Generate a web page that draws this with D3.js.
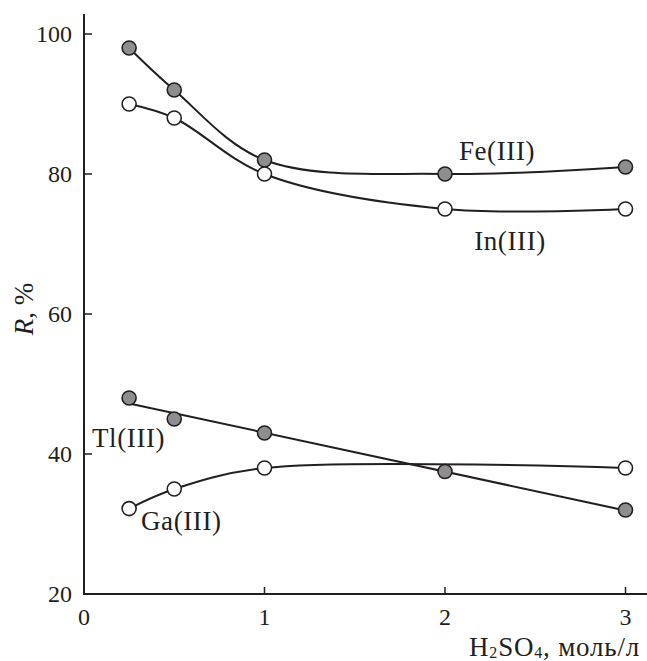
<!DOCTYPE html>
<html>
<head>
<meta charset="utf-8">
<script src="https://cdn.jsdelivr.net/npm/d3@7"></script>
<style>
  body { margin: 0; background: #fff; }
  svg text { font-family: "Liberation Serif", "Times New Roman", serif; fill: #231f20; }
</style>
</head>
<body>
<div id="vis"></div>
<script>
// concentrations of H2SO4, mol/l
const xFe = [0.25, 0.5, 1, 2, 3];
const yFe = [98, 92, 82, 80, 81];
const xIn = [0.25, 0.5, 1, 2, 3];
const yIn = [90, 88, 80, 75, 75];
const xTl = [0.25, 0.5, 1, 2, 3];
const yTl = [48, 45, 43, 37.5, 32];
const xGa = [0.25, 0.5, 1, 3];
const yGa = [32.2, 35, 38, 38];
const xTicks = [0, 1, 2, 3];
const yTicks = [20, 40, 60, 80, 100];

const width = 647, height = 661;
const fs = 24;   // tick numbers
const ls = 27;   // labels and titles
const svg = d3.select('#vis')
  .append('svg')
  .attr('width', width)
  .attr('height', height);

const x = d3.scaleLinear().domain([0, 3]).range([84, 625.5]);
const y = d3.scaleLinear().domain([20, 100]).range([594, 34]);
const ink = '#231f20';

// axes
svg.append('line')
  .attr('x1', 84).attr('x2', 84)
  .attr('y1', 14).attr('y2', 594)
  .attr('stroke', ink).attr('stroke-width', 2);
svg.append('line')
  .attr('x1', 83).attr('x2', 647)
  .attr('y1', 594).attr('y2', 594)
  .attr('stroke', ink).attr('stroke-width', 2);

// y ticks, pointing inward
svg.selectAll('.ytick')
  .data(yTicks)
  .enter()
  .append('line')
  .attr('class', 'ytick')
  .attr('x1', 84).attr('x2', 92)
  .attr('y1', d => y(d)).attr('y2', d => y(d))
  .attr('stroke', ink).attr('stroke-width', 1.5);

svg.selectAll('.ylabel')
  .data(yTicks)
  .enter()
  .append('text')
  .attr('class', 'ylabel')
  .attr('x', 72)
  .attr('y', d => y(d))
  .attr('dy', '0.34em')
  .attr('text-anchor', 'end')
  .attr('font-size', fs)
  .text(d => d);

// x ticks
svg.selectAll('.xtick')
  .data(xTicks.filter(d => d > 0))
  .enter()
  .append('line')
  .attr('class', 'xtick')
  .attr('x1', d => x(d)).attr('x2', d => x(d))
  .attr('y1', 594).attr('y2', 587)
  .attr('stroke', ink).attr('stroke-width', 1.5);

svg.selectAll('.xlabel')
  .data(xTicks)
  .enter()
  .append('text')
  .attr('class', 'xlabel')
  .attr('x', d => x(d))
  .attr('y', 625)
  .attr('text-anchor', 'middle')
  .attr('font-size', fs)
  .text(d => d);

// axis titles
const xTitle = svg.append('text')
  .attr('x', 640)
  .attr('y', 656)
  .attr('text-anchor', 'end')
  .attr('font-size', ls)
  .attr('letter-spacing', 0.8);
xTitle.append('tspan').text('H');
xTitle.append('tspan').attr('font-size', 16).attr('dy', 2).text('2');
xTitle.append('tspan').attr('dy', -2).text('SO');
xTitle.append('tspan').attr('font-size', 16).attr('dy', 2).text('4');
xTitle.append('tspan').attr('dy', -2).text(', моль/л');

const yTitle = svg.append('text')
  .attr('transform', 'translate(33,309) rotate(-90)')
  .attr('text-anchor', 'middle')
  .attr('font-size', ls);
yTitle.append('tspan').attr('font-style', 'italic').text('R');
yTitle.append('tspan').text(', %');

// curves
const toPoints = (xs, ys) => xs.map((v, i) => [v, ys[i]]);
const smooth = d3.line()
  .x(d => x(d[0]))
  .y(d => y(d[1]))
  .curve(d3.curveCatmullRom.alpha(0.5));

svg.append('path')
  .attr('d', smooth(toPoints(xFe, yFe)))
  .attr('fill', 'none').attr('stroke', ink).attr('stroke-width', 2);
svg.append('path')
  .attr('d', smooth(toPoints(xIn, yIn)))
  .attr('fill', 'none').attr('stroke', ink).attr('stroke-width', 2);
svg.append('path')
  .attr('d', smooth(toPoints(xGa, yGa)))
  .attr('fill', 'none').attr('stroke', ink).attr('stroke-width', 2);

// Tl(III) is drawn as a least-squares straight line
function fitLine(xs, ys) {
  const mx = d3.mean(xs), my = d3.mean(ys);
  let sxy = 0, sxx = 0;
  for (let i = 0; i < xs.length; i++) {
    sxy += (xs[i] - mx) * (ys[i] - my);
    sxx += (xs[i] - mx) * (xs[i] - mx);
  }
  const k = sxy / sxx;
  return v => my + k * (v - mx);
}
const tlFit = fitLine(xTl, yTl);
svg.append('line')
  .attr('x1', x(xTl[0])).attr('y1', y(tlFit(xTl[0])))
  .attr('x2', x(xTl[xTl.length - 1])).attr('y2', y(tlFit(xTl[xTl.length - 1])))
  .attr('stroke', ink).attr('stroke-width', 2);

// markers
function drawMarkers(xs, ys, fill) {
  svg.append('g')
    .selectAll('circle')
    .data(toPoints(xs, ys))
    .enter()
    .append('circle')
    .attr('cx', d => x(d[0]))
    .attr('cy', d => y(d[1]))
    .attr('r', 7)
    .attr('fill', fill)
    .attr('stroke', ink)
    .attr('stroke-width', 1.6);
}
drawMarkers(xFe, yFe, '#8e8e90');
drawMarkers(xIn, yIn, '#ffffff');
drawMarkers(xTl, yTl, '#8e8e90');
drawMarkers(xGa, yGa, '#ffffff');

// series labels
const labelLs = 0.6;
svg.append('text').attr('x', 497).attr('y', 160).attr('text-anchor', 'middle')
  .attr('font-size', ls).attr('letter-spacing', labelLs).text('Fe(III)');
svg.append('text').attr('x', 510).attr('y', 250).attr('text-anchor', 'middle')
  .attr('font-size', ls).attr('letter-spacing', labelLs).text('In(III)');
svg.append('text').attr('x', 92).attr('y', 447)
  .attr('font-size', ls).attr('letter-spacing', labelLs).text('Tl(III)');
svg.append('text').attr('x', 141).attr('y', 530)
  .attr('font-size', ls).attr('letter-spacing', labelLs).text('Ga(III)');
</script>
</body>
</html>
